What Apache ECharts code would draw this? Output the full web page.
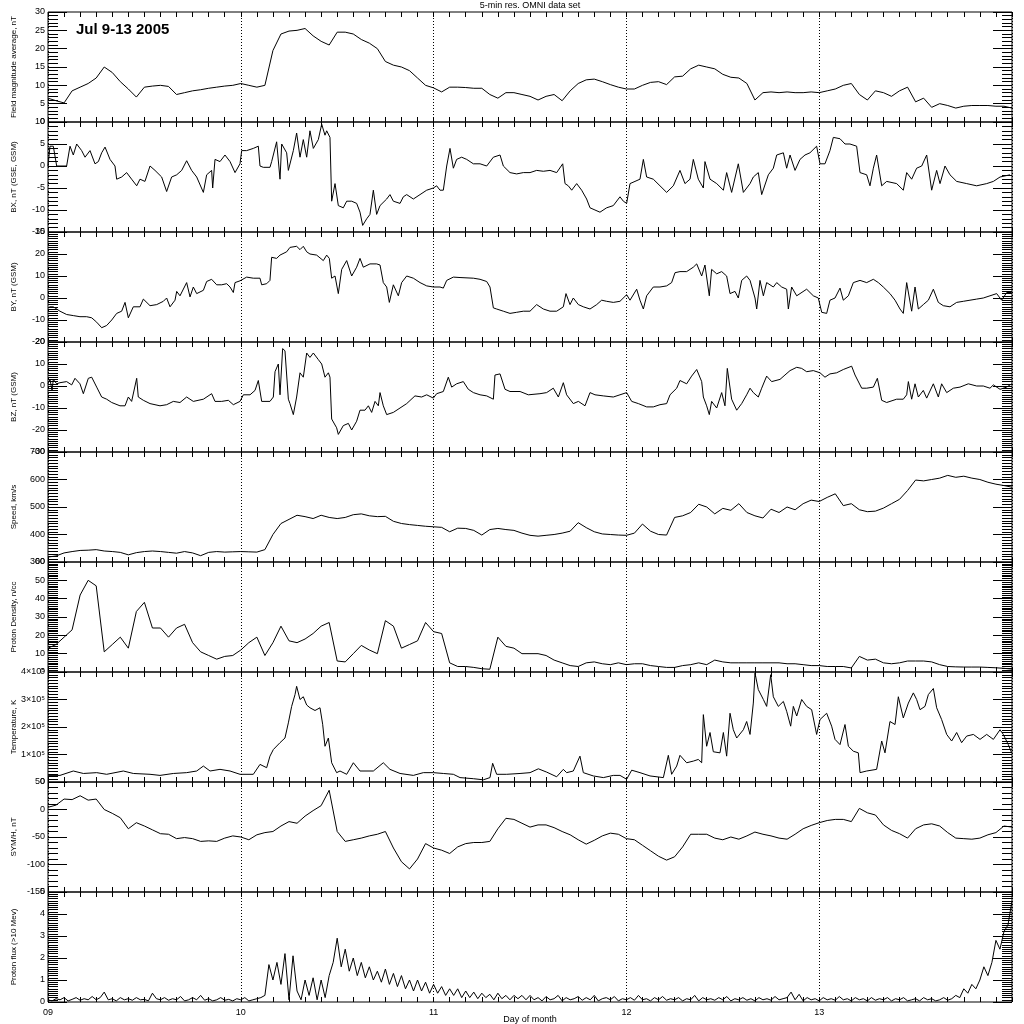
<!DOCTYPE html>
<html><head><meta charset="utf-8">
<script src="https://cdn.jsdelivr.net/npm/echarts@6/dist/echarts.min.js"></script>
<style>html,body{margin:0;padding:0;background:#fff}#c{width:1024px;height:1024px}</style>
</head><body><div id="c"></div>
<script>
// x values are hours since Jul 9 00:00
const dayLabels = ['09','10','11','12','13'];

// hourly samples
const fieldMag = [6.5,5.8,5.2,8.5,9.5,10.5,12,15,13.5,11,
9,6.8,9.5,9.8,10,9.7,7.5,8,8.5,8.8,
9.2,9.5,9.8,10,10.5,10,9.5,10,19.5,24,
24.8,25,25.5,23.5,22,21,24.5,24.5,24,22.5,
21.5,20,16.5,15.5,15,14,12,10,9.3,8.2,
9.5,9.5,9.4,9.2,9.2,7.5,6.5,8,8,7.5,
7,6,7,7.5,5.8,8.5,10.5,11.5,11.7,11,
10.2,9.5,9,9,10,10.8,11,10.2,12.3,12.5,
14.5,15.5,15,14.5,13,12.2,12,10.5,6,8,
8.2,8,8.2,8,8,8.2,8,8.5,9,10,
10.5,7.5,6,8.5,8,7,8.5,9.5,5.5,6.5,
4,5,4.5,3.8,4.3,4.5,4.5,4.5,4.3,4.3,3.8];

// [hour, value] readings
const bxPoints = [[0,0],[0.25,4.5],[0.66,4.5],[1.08,0],[1.49,0],[2.32,0],[2.74,4.5],[3.15,2.5],[3.57,5],[4.19,3.5],[4.61,2],[5.23,3.5],[5.85,0.5],[6.27,1],[6.68,3],[7.1,4.3],[7.72,1.5],[8.34,0],[8.55,-3],[9.17,-2.5],[9.79,-1.5],[10.41,-3],[11.04,-4.5],[11.45,-3],[12.07,-3.5],[12.7,0],[13.32,-1],[14.15,-2.5],[14.77,-5.8],[15.39,-2.5],[16.02,-2],[16.64,-1],[17.26,1.2],[17.88,-1],[18.51,-2.5],[19.34,-6],[19.75,-2],[20.37,-1],[20.5,-5],[20.79,1.5],[21.41,1],[22.03,2.5],[22.66,1],[23.28,-1.5],[23.9,0.5],[24.11,3.5],[24.73,3.5],[25.56,4],[26.18,4.5],[26.39,0],[26.8,-0.3],[27.63,-0.3],[27.84,1],[28.46,5.5],[28.88,-3],[29.09,5],[29.71,3],[29.92,-1],[30.54,3.5],[30.95,7.5],[31.37,2],[31.78,6],[32.2,2],[32.61,8],[33.03,4],[33.65,6],[34.07,9.5],[34.48,7],[34.69,8],[35.1,6.5],[35.31,-8],[35.73,-4],[36.14,-9],[36.76,-9.5],[37.18,-8],[37.8,-8],[38.42,-8.5],[38.84,-10.5],[39.17,-13.5],[39.67,-12],[40.08,-11],[40.5,-5.5],[40.91,-11],[41.33,-9],[42.16,-7.5],[42.57,-6.5],[42.99,-8],[43.82,-8.5],[44.23,-7],[44.65,-6.5],[45.48,-7.5],[46.31,-6.5],[47.14,-5.5],[47.97,-5],[48.38,-4.5],[48.8,-5.5],[49.21,-5.5],[49.63,0],[50.04,4],[50.46,-0.5],[50.87,1.5],[51.49,2],[52.12,1.5],[52.95,0.5],[53.78,0.5],[54.61,0],[55.44,2],[56.27,2.5],[56.68,0],[57.51,-1.5],[58.34,-1.8],[59.17,-1.5],[60,-1.5],[60.83,-1],[61.66,-1.2],[62.49,-1],[63.32,-1.5],[64.07,0.5],[64.36,-4],[64.77,-4.5],[65.19,-5.5],[65.81,-4],[66.43,-5.5],[67.05,-7.5],[67.47,-9.5],[68.09,-10],[68.71,-10.5],[69.54,-9.5],[70.37,-9],[71.2,-7],[71.62,-8],[72.03,-8.5],[72.45,-4],[73.07,-3.5],[73.69,-3],[74.11,1.5],[74.52,-2.5],[75.35,-3],[76.18,-4.5],[77.01,-6],[77.84,-4.5],[78.67,-1],[79.29,-4],[79.92,-3],[80.33,1.5],[80.95,-3],[81.58,-5],[81.78,1],[82.41,-3],[83.24,-4],[84.07,-5.5],[84.48,-1.5],[85.1,-6],[85.93,0.5],[86.56,-6],[87.39,-4],[87.8,-2.5],[88.42,-1.5],[88.84,-6.5],[89.67,-2],[90.29,-0.5],[90.71,2.5],[91.54,3],[91.95,-0.5],[92.37,2.5],[92.99,-1],[93.61,1.5],[94.23,2.5],[94.85,3],[95.68,4.5],[96.1,0.5],[96.72,0.5],[97.34,3.5],[97.76,6.5],[98.59,6.2],[99.21,5],[99.83,5],[100.66,4.5],[101.08,-1.5],[101.91,-2],[102.32,-4.5],[102.74,-0.5],[103.15,2.5],[103.78,-4.5],[104.4,-3.5],[105.64,-4],[106.47,-5.5],[106.89,-1.5],[107.51,-3],[108.13,-0.5],[108.76,0],[109.38,2.5],[110,-5.5],[110.62,-1],[111.04,-4],[111.66,0],[112.28,-2],[113.11,-3.5],[114.36,-4],[115.6,-4.5],[116.85,-4],[117.68,-3.5],[118.51,-2.5],[119.75,-2]];

const byPoints = [[0,-4.5],[0.25,-4],[0.66,-4],[1.49,-6],[2.32,-7.5],[3.15,-8],[3.98,-8.5],[4.81,-8.5],[5.44,-9],[6.06,-11],[6.68,-13.5],[7.3,-12.5],[7.93,-10],[8.55,-7],[9.17,-6],[9.59,-2],[10,-9],[10.62,-4],[11.45,-4],[11.87,-0.5],[12.7,-3.5],[13.53,-3],[14.36,-1.5],[14.77,0],[15.19,-4],[15.81,-1],[16.02,3],[16.43,1],[17.26,7],[17.68,0.5],[18.09,5],[18.51,2],[19.34,3.5],[19.75,7.5],[20.37,8.5],[21,6],[21.62,6],[22.24,6.5],[22.66,5],[23.07,2.5],[23.28,7],[23.9,7.8],[24.73,9.5],[25.56,9],[26.39,9],[26.6,6],[27.22,6.5],[27.63,8],[27.84,18.5],[28.46,18],[28.88,19.5],[29.71,21],[30.12,23],[30.95,23.5],[31.37,22],[31.78,23.5],[32.2,21],[32.61,20],[33.44,19.5],[34.27,17],[34.69,19.5],[35.02,18],[35.31,9],[35.73,10],[36.14,2],[36.56,13],[37.18,17],[37.8,10],[38.42,14],[38.84,18],[39.25,14],[40.08,15.5],[40.91,15.5],[41.33,15],[41.74,7],[42.16,5],[42.49,-2],[42.99,6],[43.61,1],[44.02,7],[44.65,10],[45.48,9],[46.31,7],[47.14,5.5],[47.97,5],[48.8,5],[49.21,4.5],[49.63,8],[50.46,9.5],[51.29,9.3],[52.95,9],[53.78,8.5],[54.61,7.5],[55.02,5],[55.44,-4.5],[55.85,-5],[56.68,-6],[57.51,-7],[58.34,-6.5],[59.17,-6],[60,-6],[60.83,-3],[61.66,-5],[62.49,-6],[63.32,-6],[64.15,-4],[64.48,2],[64.98,-3],[65.39,0],[66.02,-3],[66.64,-4],[67.47,-5],[68.3,-3],[68.92,-1],[69.54,-1.5],[70.37,-2],[71.2,-1.5],[72.03,1.5],[72.45,-1],[73.28,4],[73.69,-1],[74.11,-5],[74.52,1],[75.35,5],[76.18,5],[77.01,5.5],[77.63,7],[78.05,11.5],[78.67,12],[79.5,12],[80.33,14],[80.75,15.5],[81.37,10],[81.78,15],[82.32,1],[82.61,13],[83.24,11],[83.86,12],[84.48,10],[84.9,2],[85.52,3],[85.93,0],[86.35,8],[86.97,10],[87.39,8],[88.01,0],[88.22,-5],[88.63,8],[89.05,1],[89.46,7],[90.29,5],[90.71,7],[91.33,5],[91.95,4],[92.16,-5],[92.57,5],[93.2,1],[94.44,4],[95.27,1],[95.89,0],[96.31,-6.5],[96.93,-7],[97.34,-1],[97.97,0],[98.59,4.5],[99,-1],[99.63,1],[100.25,7],[101.08,8],[101.91,7],[102.74,8.5],[103.36,7],[103.98,5],[104.81,2],[105.44,-1],[106.06,-5],[106.47,-7],[106.89,7],[107.51,-6],[107.93,5],[108.34,-5],[108.96,-3],[109.59,-1],[110.21,4],[110.83,-2],[111.45,-3.5],[112.28,-4],[113.11,-2],[113.94,-1.5],[114.77,-1],[115.6,-0.5],[116.43,0],[117.26,1],[118.09,2],[118.71,-1],[119.34,2.5],[119.96,2.5]];

const bzPoints = [[0,1],[0.25,3],[0.5,-2],[0.66,3],[1.08,1],[1.49,1.5],[2.32,2],[2.95,0.5],[3.36,3.5],[3.98,1],[4.4,-3.5],[5.02,3.5],[5.44,4],[6.06,-0.5],[6.68,-5],[7.3,-6],[7.93,-7.5],[8.96,-9],[9.59,-9],[10,-5],[10.41,-7],[11.04,3.5],[11.24,-5],[11.87,-6.5],[12.7,-8],[13.94,-9],[14.77,-8.5],[15.6,-7],[16.43,-7.5],[17.26,-5],[18.09,-7],[19.34,-6],[20.37,-3.5],[20.79,-7],[21.62,-7],[22.45,-6.5],[23.07,-8.5],[23.9,-7],[24.32,-4],[25.15,-4],[25.77,-2],[26.18,2.5],[26.6,-7],[27.63,-7],[28.05,-5],[28.26,6.5],[28.67,10],[28.88,-4],[29.21,17],[29.5,16],[29.92,-6],[30.12,-8],[30.54,-13],[30.95,-5],[31.37,6],[31.78,4],[32.2,15],[32.61,13],[33.03,15],[33.65,12],[34.07,10],[34.48,4],[34.9,6],[35.1,4],[35.31,-15],[35.93,-19],[36.14,-22],[36.76,-18],[37.39,-17],[37.8,-20],[38.42,-16],[38.84,-11],[39.46,-11],[39.88,-9],[40.29,-12],[40.71,-7],[41.12,-9],[41.33,-3],[41.74,-9],[42.16,-13],[42.99,-12],[43.82,-10],[44.65,-8],[45.68,-4.5],[46.51,-5],[47.14,-4],[47.97,-5.5],[48.38,-3.5],[49.21,-2.5],[49.83,4],[50.25,-0.5],[50.87,1],[51.7,2],[52.32,-1.5],[52.95,-3],[53.78,-4],[54.61,-4.5],[55.44,-6],[55.64,5],[56.27,5.5],[56.89,-1.5],[57.51,-2.5],[58.76,-2.5],[59.79,-4],[60,-3.5],[61.24,-3.5],[62.07,-3],[62.9,-1],[63.53,-5],[64.15,1.5],[64.56,-4],[65.39,-8],[66.02,-7],[66.85,-9],[67.47,-3],[68.09,-4],[69.13,-4.5],[70.37,-5],[71.2,-4],[72.03,-3],[72.66,-7],[73.49,-8],[74.52,-9.5],[75.35,-9.5],[76.18,-8.5],[77.01,-8],[77.43,-4],[78.26,-1],[78.67,2.5],[79.5,1],[80.12,4.5],[80.75,7.5],[81.37,2],[81.58,-5],[81.99,-9],[82.32,-13],[82.61,-7],[83.24,-10],[83.86,-3],[84.27,-9],[84.56,8],[85.1,-6],[85.73,-11],[86.35,-8],[86.97,-4],[87.39,-1],[87.8,-3],[88.42,-5],[88.84,-1],[89.46,4.5],[90.08,2],[91.12,3],[91.74,5],[92.37,7],[93.2,8.5],[93.82,8],[94.44,6.5],[95.27,7],[96.1,6],[96.72,4],[97.34,5.5],[98.17,6],[99,7.5],[100.04,9],[100.46,5],[101.29,-1],[101.91,-1],[102.74,-0.5],[103.24,3.5],[103.78,-6.5],[104.4,-7.5],[105.64,-6],[106.47,-6],[106.89,-4],[107.1,2],[107.51,-6],[107.93,1],[108.34,-5],[108.96,-2],[109.38,-5.5],[110.21,1],[110.83,-5],[111.24,1],[111.87,-3],[112.7,-1],[113.53,-0.5],[114.56,1],[115.6,0],[116.43,0],[117.26,-1],[117.68,0.5],[118.51,-1.5],[119.34,-0.5],[119.96,1]];

// hourly samples
const speed = [318,322,333,338,342,343,345,340,338,335,
326,334,338,340,338,335,332,338,333,323,
335,338,336,337,338,337,336,345,400,440,
455,470,465,458,470,462,458,462,472,475,
468,465,466,448,440,436,433,430,428,426,
410,423,422,415,398,418,422,418,415,405,
397,394,397,400,405,412,443,425,410,402,
400,398,397,405,438,412,400,398,462,468,
480,510,500,475,495,488,512,480,468,460,
492,480,500,490,512,525,520,535,548,505,
512,490,483,485,496,512,528,560,598,595,
600,605,615,608,612,605,600,590,583,578,572];

const density = [13,15,19,23,42,50,47,11,15,19,
13,33,38,24,24,19,24,26,16,11,
9,7,8.5,9,12,16,19,9,16,25,
17,16,18,21,25,27,6,5.5,10,14.5,
12,10,28,25,13,15,17,27,22,21,
5,3,3,2.5,1.8,1.5,19,14,13,10,
10,10,9,6.5,5,3.5,3,5,5.5,4.5,
4,5,4,4.5,4.5,3.5,3,2.5,2.5,3.5,
4,5,4,6.5,5.5,5,5,5,5,5,
5,5,4.5,4.5,4,3.5,3.5,3,3,3,
2.2,8.5,6.5,7,5,4.5,5,6,6,6,
5.5,4,3,2.8,2.7,2.7,2.7,2.5,2.3,2,1.6];

// [hour, K] readings
const temperaturePoints = [[0,24000],[1.49,24000],[3.15,40000],[4.4,31000],[6.06,34000],[7.3,28000],[9.38,40000],[10.62,31000],[12.7,28000],[13.94,24000],[15.6,31000],[17.26,34000],[18.51,40000],[19.34,58000],[20.17,40000],[21.41,46000],[22.66,40000],[23.9,28000],[25.56,28000],[26.39,64000],[27.22,52000],[27.63,94000],[28.05,118000],[28.88,143000],[29.5,160000],[29.92,215000],[30.33,275000],[30.75,318000],[30.95,348000],[31.37,300000],[31.78,310000],[32.2,280000],[32.61,270000],[33.24,260000],[33.86,270000],[34.19,210000],[34.48,130000],[34.9,160000],[35.31,70000],[35.93,34000],[36.35,40000],[37.18,28000],[38.01,70000],[38.84,40000],[40.5,40000],[41.74,70000],[42.57,46000],[43.82,31000],[45.48,24000],[46.72,34000],[47.97,34000],[49.21,31000],[50.46,28000],[51.29,16000],[52.95,12000],[54.19,8000],[55.02,16000],[55.35,68000],[55.85,28000],[57.1,28000],[58.76,31000],[60,34000],[61.04,48000],[62.07,36000],[63.32,19000],[64.15,46000],[64.56,34000],[65.39,40000],[66.22,94000],[66.64,34000],[67.88,22000],[69.13,16000],[70.37,24000],[71.2,24000],[72.03,10000],[72.66,43000],[73.69,34000],[74.94,22000],[76.6,16000],[77.22,97000],[77.63,28000],[78.26,58000],[78.67,97000],[79.5,70000],[80.33,76000],[80.95,82000],[81.37,70000],[81.58,245000],[81.99,130000],[82.41,180000],[82.82,110000],[83.65,106000],[84.07,180000],[84.48,94000],[84.9,250000],[85.31,190000],[85.73,160000],[86.56,190000],[86.97,220000],[87.39,173000],[87.8,287000],[88.01,396000],[88.42,336000],[89.05,300000],[89.46,275000],[89.96,390000],[90.29,310000],[90.91,275000],[91.54,293000],[91.95,257000],[92.45,203000],[92.78,275000],[93.2,240000],[93.82,300000],[94.44,275000],[95.06,263000],[95.68,173000],[96.1,227000],[96.93,250000],[97.55,203000],[97.97,155000],[98.59,136000],[99.21,209000],[99.63,130000],[100.25,112000],[100.87,106000],[101.08,34000],[101.91,40000],[103.15,46000],[103.78,149000],[104.19,106000],[104.81,220000],[105.44,209000],[105.85,310000],[106.47,233000],[107.1,287000],[107.72,324000],[108.13,300000],[108.55,263000],[109.17,275000],[109.59,318000],[110.21,340000],[110.62,270000],[111.24,227000],[111.87,173000],[112.49,149000],[113.11,180000],[113.73,143000],[114.36,167000],[115.19,173000],[116.02,155000],[116.85,173000],[117.68,155000],[118.51,190000],[118.92,173000],[119.54,136000],[119.96,106000]];

// hourly samples
const symh = [4,8,19,18,25,17,19,0,-7,-15,
-35,-24,-30,-37,-44,-45,-53,-51,-53,-58,
-57,-58,-52,-48,-50,-55,-46,-42,-40,-30,
-22,-25,-12,-2,7,35,-40,-58,-55,-52,
-48,-45,-40,-70,-95,-108,-90,-62,-70,-74,
-80,-68,-62,-60,-60,-58,-35,-16,-18,-25,
-32,-28,-28,-33,-40,-46,-55,-63,-56,-48,
-43,-45,-53,-55,-65,-75,-85,-92,-86,-68,
-45,-45,-45,-52,-55,-50,-54,-48,-41,-45,
-48,-52,-54,-45,-35,-29,-24,-20,-18,-18,
-22,2,-6,-10,-28,-38,-44,-52,-35,-28,
-26,-30,-42,-52,-53,-54,-52,-46,-42,-30,-32];

// half-hourly samples
const protonFlux = [0.1,0.05,0.15,0.1,0.2,0.05,0.12,0.2,0.08,0.15,
0.1,0.25,0.1,0.2,0.45,0.1,0.15,0.05,0.2,0.1,
0.15,0.08,0.2,0.1,0.12,0.05,0.4,0.15,0.1,0.2,
0.08,0.15,0.1,0.25,0.05,0.1,0.2,0.1,0.3,0.08,
0.15,0.05,0.1,0.2,0.08,0.12,0.05,0.15,0.1,0.2,
0.05,0.1,0.15,0.2,0.3,
1.7,1.0,1.8,0.8,2.2,0.1,2.1,0.5,0.1,1.0,
0.3,1.1,0.1,1.0,0.2,1.2,1.8,2.9,1.6,2.4,
1.4,2.0,1.2,1.8,1.1,1.6,1.0,1.4,0.9,1.5,
0.8,1.3,0.7,1.2,0.6,1.0,0.5,1.0,0.5,0.9,
0.4,0.8,
0.4,0.7,0.3,0.6,0.3,0.6,0.2,0.5,0.2,0.45,0.15,0.4,0.2,0.35,0.1,0.4,0.15,0.3,0.1,0.3,0.15,0.3,0.1,0.3,
0.1,0.2,0.05,0.25,0.1,0.15,0.3,0.05,0.2,0.1,
0.15,0.25,0.08,0.2,0.1,0.3,0.05,0.15,0.2,0.1,
0.25,0.05,0.15,0.1,0.2,0.08,0.3,0.1,0.15,0.05,
0.2,0.1,0.25,0.08,0.15,0.1,0.2,0.05,0.15,0.1,
0.3,0.05,0.2,0.1,0.15,0.08,0.2,0.1,0.25,0.05,
0.15,0.1,0.2,0.08,0.15,0.05,0.2,0.1,0.15,0.08,
0.25,0.1,0.15,0.2,0.45,0.1,0.35,0.05,0.2,0.1,
0.15,0.05,0.2,0.1,0.15,0.08,0.25,0.1,0.15,0.05,
0.2,0.1,0.15,0.05,0.2,0.08,0.15,0.1,0.2,0.05,
0.15,0.1,0.2,0.05,0.1,0.15,0.05,0.2,0.1,0.15,
0.05,0.1,0.2,0.08,0.15,
0.3,0.2,0.6,0.4,0.8,0.6,1.0,1.6,1.2,1.8,2.8,2.4,3.2,3.5,4.6];

const panels = [
  {name:'Field magnitude average, nT', data:fieldMag, step:1, min:0, max:30, interval:5, minor:5},
  {name:'BX, nT (GSE, GSM)', points:bxPoints, min:-15, max:10, interval:5, minor:5},
  {name:'BY, nT (GSM)', points:byPoints, min:-20, max:30, interval:10, minor:10},
  {name:'BZ, nT (GSM)', points:bzPoints, min:-30, max:20, interval:10, minor:10},
  {name:'Speed, km/s', data:speed, step:1, min:300, max:700, interval:100, minor:10},
  {name:'Proton Density, n/cc', data:density, step:1, min:0, max:60, interval:10, minor:10},
  {name:'Temperature, K', points:temperaturePoints, min:0, max:400000, interval:100000, minor:10,
   fmt:v => v === 0 ? '0' : (v/100000) + '×10⁵'},
  {name:'SYM/H, nT', data:symh, step:1, min:-150, max:50, interval:50, minor:5},
  {name:'Proton flux (>10 Mev)', data:protonFlux, step:0.5, min:0, max:5, interval:1, minor:10}
];

const FONT = 'Liberation Sans';
const TOP0 = 12, PH = 110;
const grids = [], xAxes = [], yAxes = [], series = [];
const blk = '#000';
panels.forEach((p, i) => {
  const last = i === panels.length - 1;
  grids.push({left:48, right:12, top:TOP0 + i*PH, height:PH, show:true,
    containLabel:false, outerBoundsMode:'none',
    borderColor:blk, borderWidth:1, backgroundColor:'transparent'});
  xAxes.push({gridIndex:i, type:'value', min:0, max:120, interval:24, position:'bottom',
    axisLine:{show:false, onZero:false},
    axisTick:{show:true, inside:true, length:5, lineStyle:{color:blk}},
    minorTick:{show:true, splitNumber:12, length:5, lineStyle:{color:blk}},
    axisLabel:{show:last, color:blk, fontSize:9, fontFamily:FONT, margin:6,
      formatter:v => (v < 120 ? dayLabels[Math.round(v/24)] : '')},
    splitLine:{show:true, lineStyle:{type:[1,2], color:blk, width:1}},
    minorSplitLine:{show:false},
    name: last ? 'Day of month' : '', nameLocation:'middle', nameGap:13,
    nameMoveOverlap:false,
    nameTextStyle:{fontSize:9, color:blk, fontFamily:FONT}
  });
  xAxes.push({gridIndex:i, type:'value', min:0, max:120, interval:24, position:'top',
    axisLine:{show:false, onZero:false},
    axisTick:{show:true, inside:true, length:5, lineStyle:{color:blk}},
    minorTick:{show:true, splitNumber:12, length:5, lineStyle:{color:blk}},
    axisLabel:{show:false}, splitLine:{show:false}
  });
  const yCommon = {gridIndex:i, type:'value', min:p.min, max:p.max, interval:p.interval,
    axisLine:{show:false, onZero:false},
    axisTick:{show:true, inside:true, length:19, lineStyle:{color:blk}},
    minorTick:{show:true, splitNumber:p.minor, length:10, lineStyle:{color:blk}},
    splitLine:{show:false}};
  yAxes.push(Object.assign({}, yCommon, {position:'left',
    axisLabel:{show:true, color:blk, fontSize:9, fontFamily:FONT, margin:3,
      showMinLabel:true, showMaxLabel:true,
      formatter: p.fmt ? p.fmt : (v => String(v))},
    name:p.name, nameLocation:'middle', nameGap:30, nameRotate:90, nameMoveOverlap:false,
    nameTextStyle:{fontSize:8, color:blk, fontFamily:FONT}
  }));
  yAxes.push(Object.assign({}, yCommon, {position:'right', axisLabel:{show:false}}));
  const data = p.points ? p.points : p.data.map((v, k) => [k*p.step, v]);
  series.push({type:'line', xAxisIndex:2*i, yAxisIndex:2*i, data:data,
    symbol:'none', showSymbol:false, lineStyle:{color:blk, width:1},
    emphasis:{disabled:true}, silent:true});
});

const chart = echarts.init(document.getElementById('c'), null, {renderer:'canvas'});
chart.setOption({
  animation:false,
  backgroundColor:'#fff',
  textStyle:{fontFamily:FONT},
  title:[
    {text:'5-min res. OMNI data set', left:530, top:1, padding:0, textAlign:'center',
     textStyle:{fontSize:9, fontWeight:'normal', color:blk, fontFamily:FONT}},
    {text:'Jul 9-13 2005', left:76, top:22, padding:0,
     textStyle:{fontSize:15, fontWeight:'bold', color:blk, fontFamily:FONT}}
  ],
  grid:grids, xAxis:xAxes, yAxis:yAxes, series:series
});
</script>
</body></html>
